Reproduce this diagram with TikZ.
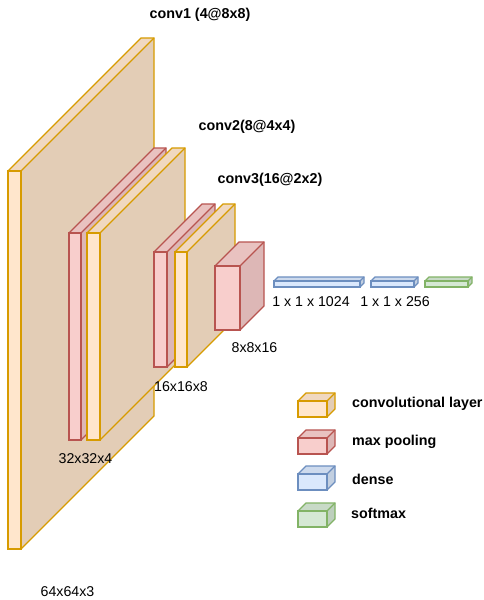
\documentclass[tikz,border=0pt]{standalone}
\usepackage{fontspec}
\setmainfont{Liberation Sans}
\definecolor{convF}{HTML}{FFE6CC}\definecolor{convS}{HTML}{D79B00}
\definecolor{poolF}{HTML}{F8CECC}\definecolor{poolS}{HTML}{B85450}
\definecolor{denseF}{HTML}{DAE8FC}\definecolor{denseS}{HTML}{6C8EBF}
\definecolor{softF}{HTML}{D5E8D4}\definecolor{softS}{HTML}{82B366}
\newcommand\mycube[7]{% x y w h d fill stroke
  \fill[#6] ({#1},{#2+#5}) rectangle ({#1+#3-#5},{#2+#4});
  \fill[#6!94!black] ({#1},{#2+#5}) -- ({#1+#5},{#2}) -- ({#1+#3},{#2}) -- ({#1+#3-#5},{#2+#5}) -- cycle;
  \fill[#6!89!black] ({#1+#3-#5},{#2+#5}) -- ({#1+#3},{#2}) -- ({#1+#3},{#2+#4-#5}) -- ({#1+#3-#5},{#2+#4}) -- cycle;
  \draw[cubeline,#7] ({#1},{#2+#5}) rectangle ({#1+#3-#5},{#2+#4});
  \draw[cubeline,#7] ({#1},{#2+#5}) -- ({#1+#5},{#2}) -- ({#1+#3},{#2}) -- ({#1+#3},{#2+#4-#5}) -- ({#1+#3-#5},{#2+#4});
  \draw[cubeline,#7] ({#1+#3-#5},{#2+#5}) -- ({#1+#3},{#2});
}
\tikzset{
  cubeline/.style={line width=1.1pt, line join=miter},
  lbl/.style={font=\fontsize{14.2}{16}\selectfont, inner sep=0pt},
  ttl/.style={font=\fontsize{14.3}{16}\selectfont\bfseries, inner sep=0pt},
}
\begin{document}
\begin{tikzpicture}[x=1pt,y=-1pt]
\useasboundingbox (0,0) rectangle (483,600);
\fill[white] (0,0) rectangle (483,600);
% network
\mycube{8}{38}{146}{511}{133}{convF}{convS}
\mycube{69}{148}{97}{292}{85}{poolF}{poolS}
\mycube{87}{148}{98}{292}{85}{convF}{convS}
\mycube{154}{204}{61}{163}{48}{poolF}{poolS}
\mycube{175}{204}{60}{163}{48}{convF}{convS}
\mycube{215}{242}{49}{88}{24}{poolF}{poolS}
\mycube{274}{277}{90}{10}{4}{denseF}{denseS}
\mycube{371}{277}{47}{10}{4}{denseF}{denseS}
\mycube{425}{277}{47}{10}{4}{softF}{softS}
% legend
\mycube{298}{393}{37}{24}{8}{convF}{convS}
\mycube{298}{430}{37}{24}{8}{poolF}{poolS}
\mycube{298}{466}{37}{24}{8}{denseF}{denseS}
\mycube{298}{503}{37}{24}{8}{softF}{softS}
% titles
\node[ttl] (t1) at (200,15) {conv1 (4@8x8)};
\node[ttl] (t2) at (247,127) {conv2(8@4x4)};
\node[ttl] (t3) at (270,180) {conv3(16@2x2)};
% sizes
\node[lbl] (s1) at (67.5,592) {64x64x3};
\node[lbl] (s2) at (85.5,459) {32x32x4};
\node[lbl] (s3) at (181,387) {16x16x8};
\node[lbl] (s4) at (254.5,348) {8x8x16};
\node[lbl] (s5) at (311,302) {1 x 1 x 1024};
\node[lbl] (s6) at (395,302) {1 x 1 x 256};
% legend text
\node[ttl,anchor=west] (l1) at (352,404) {convolutional layer};
\node[ttl,anchor=west] (l2) at (352,442) {max pooling};
\node[ttl,anchor=west] (l3) at (352,479) {dense};
\node[ttl,anchor=west] (l4) at (351,513) {softmax};
\end{tikzpicture}
\end{document}
